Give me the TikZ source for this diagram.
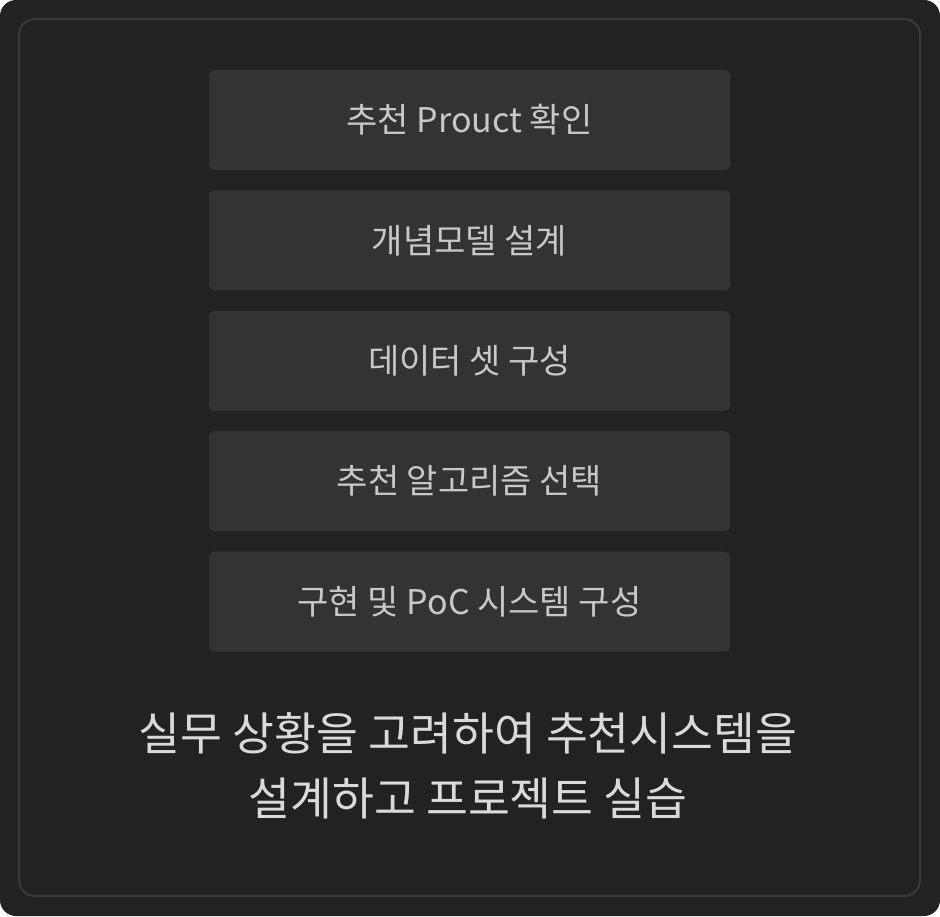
\documentclass[tikz,border=0pt]{standalone}
\usepackage{fontspec}
\newfontfamily\krfont{Noto Sans CJK KR}
\usetikzlibrary{positioning}
\definecolor{paneldark}{HTML}{222222}
\definecolor{panelline}{HTML}{3A3A3A}
\definecolor{stepfill}{HTML}{333333}
\definecolor{steptext}{HTML}{C8C8C8}
\definecolor{bigtext}{HTML}{DADADA}
\tikzset{
  stepbox/.style={fill=stepfill, rounded corners=5pt, minimum width=521pt,
    minimum height=100pt, inner sep=0pt, text=steptext,
    font=\krfont\fontsize{34}{40}\selectfont},
}

\begin{document}
\begin{tikzpicture}[x=1pt,y=-1pt]
  \useasboundingbox (0,0) rectangle (940,916);
  \fill[paneldark, rounded corners=16pt] (0,0) rectangle (940,916);
  \draw[panelline, line width=2pt, rounded corners=16pt] (19,19) rectangle (920,896);

  \node[stepbox] (product) at (469.5,120) {추천 Prouct 확인};
  \node[stepbox, below=20pt of product] (concept) {개념모델 설계};
  \node[stepbox, below=20pt of concept] (dataset) {데이터 셋 구성};
  \node[stepbox, below=20pt of dataset] (algo) {추천 알고리즘 선택};
  \node[stepbox, below=20pt of algo] (poc) {구현 및 PoC 시스템 구성};

  \node[text=bigtext, align=center, font=\krfont\fontsize{45.5}{65}\selectfont]
    (summary) at (468,766) {실무 상황을 고려하여 추천시스템을\\설계하고 프로젝트 실습};
\end{tikzpicture}
\end{document}
